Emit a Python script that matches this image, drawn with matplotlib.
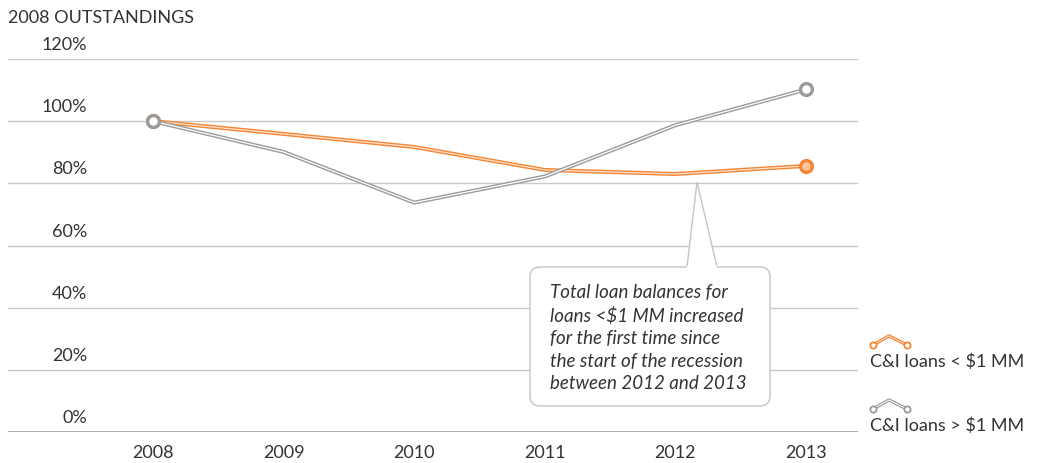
import matplotlib
matplotlib.use("Agg")
import matplotlib.pyplot as plt
import matplotlib.transforms as mtransforms
from matplotlib.patches import FancyBboxPatch, Polygon
from matplotlib.lines import Line2D

plt.rcParams['font.family'] = ['Lato', 'DejaVu Sans']

# Data: index of outstandings relative to 2008 (%)
years = [2008, 2009, 2010, 2011, 2012, 2013]
small_loans = [100.0, 95.9, 91.7, 84.3, 83.0, 85.6]   # C&I loans < $1 MM
large_loans = [100.0, 90.1, 73.8, 82.2, 98.7, 110.2]  # C&I loans > $1 MM
y_ticks = [0, 20, 40, 60, 80, 100, 120]
series_labels = ["C&I loans < \\$1 MM", "C&I loans > \\$1 MM"]
title = "2008 OUTSTANDINGS"
note = ("Total loan balances for\nloans <\\$1 MM increased\nfor the first time since\n"
        "the start of the recession\nbetween 2012 and 2013")

ORANGE = "#F58634"
ORANGE_LIGHT = "#FBC49B"
GRAY = "#9B9B9B"
GRID = "#C9C9C9"
TEXT = "#333333"
FS = 13

W, H = 1040, 463
fig = plt.figure(figsize=(W / 100, H / 100), dpi=100)
fig.patch.set_facecolor("white")

# main plotting area
left_px, right_px, top_px, bottom_px = 8, 858, 59, 432
ax = fig.add_axes([left_px / W, 1 - bottom_px / H,
                   (right_px - left_px) / W, (bottom_px - top_px) / H])
ax.set_xlim(2006.89, 2013.398)
ax.set_ylim(0, 120)
for s in ax.spines.values():
    s.set_visible(False)
ax.set_yticks([])
for v in y_ticks[1:]:
    ax.axhline(v, color=GRID, lw=1.0, zorder=1)
ax.axhline(0, color="#A0A0A0", lw=1.2, zorder=1)

ax.set_xticks(years)
ax.set_xticklabels([str(y) for y in years], fontsize=FS, color=TEXT)
ax.tick_params(axis="x", length=0, pad=9)

# y labels sit just above their gridline
trans = mtransforms.blended_transform_factory(ax.transAxes, ax.transData)
for v in y_ticks:
    ax.annotate(f"{v}%", xy=(0, v), xycoords=trans, xytext=(79, 14),
                textcoords="offset pixels", ha="right", va="center",
                fontsize=FS, color=TEXT)


def cased_line(x, y, color, inner, face, z):
    ax.plot(x, y, color=color, lw=2.9, solid_joinstyle="round", zorder=z,
            clip_on=False)
    ax.plot(x, y, color=inner, lw=0.9, solid_joinstyle="round", zorder=z + 0.1,
            clip_on=False)
    ax.plot([x[0], x[-1]], [y[0], y[-1]], ls="none", marker="o", ms=8.5,
            mfc=face, mec=color, mew=2.4, zorder=z + 0.2, clip_on=False)


cased_line(years, small_loans, ORANGE, "#FDE3CF", ORANGE_LIGHT, 3)
cased_line(years, large_loans, GRAY, "white", "white", 4)

# overlay in pixel coordinates for title, callout and legend
ov = fig.add_axes([0, 0, 1, 1], zorder=5)
ov.set_xlim(0, W)
ov.set_ylim(H, 0)
ov.axis("off")
ov.patch.set_alpha(0)

ov.text(8, 18, title, fontsize=FS, color=TEXT, ha="left", va="center")

box = FancyBboxPatch((530, 267), 240, 139, boxstyle="round,pad=0,rounding_size=10",
                     fc="white", ec="#C4C4C4", lw=1.0, zorder=2)
ov.add_patch(box)
ov.add_patch(Polygon([(687, 267), (697, 182), (717, 267)], closed=False,
                     fc="white", ec="#C4C4C4", lw=1.0, zorder=3))
ov.plot([688, 716], [267, 267], color="white", lw=1.6, zorder=4)
ov.text(550, 338, note, fontsize=13.5, color=TEXT, style="italic", ha="left",
        va="center", multialignment="left", linespacing=1.38, zorder=5)

# legend
for (label, color, inner, yc) in [(series_labels[0], ORANGE, "#FDE3CF", 362),
                                  (series_labels[1], GRAY, "white", 426)]:
    iy = yc - 17
    xs = [873, 889, 907]
    ys = [iy, iy - 9, iy]
    ov.add_line(Line2D(xs, ys, color=color, lw=2.4, zorder=6))
    ov.add_line(Line2D(xs, ys, color=inner, lw=0.7, zorder=6.1))
    ov.plot([xs[0], xs[-1]], [ys[0], ys[-1]], ls="none", marker="o", ms=4.5,
            mfc="white", mec=color, mew=1.3, zorder=6.2)
    ov.text(870, yc, label, fontsize=FS, color=TEXT, ha="left", va="center")

fig.savefig("out.png", dpi=100, facecolor="white")
